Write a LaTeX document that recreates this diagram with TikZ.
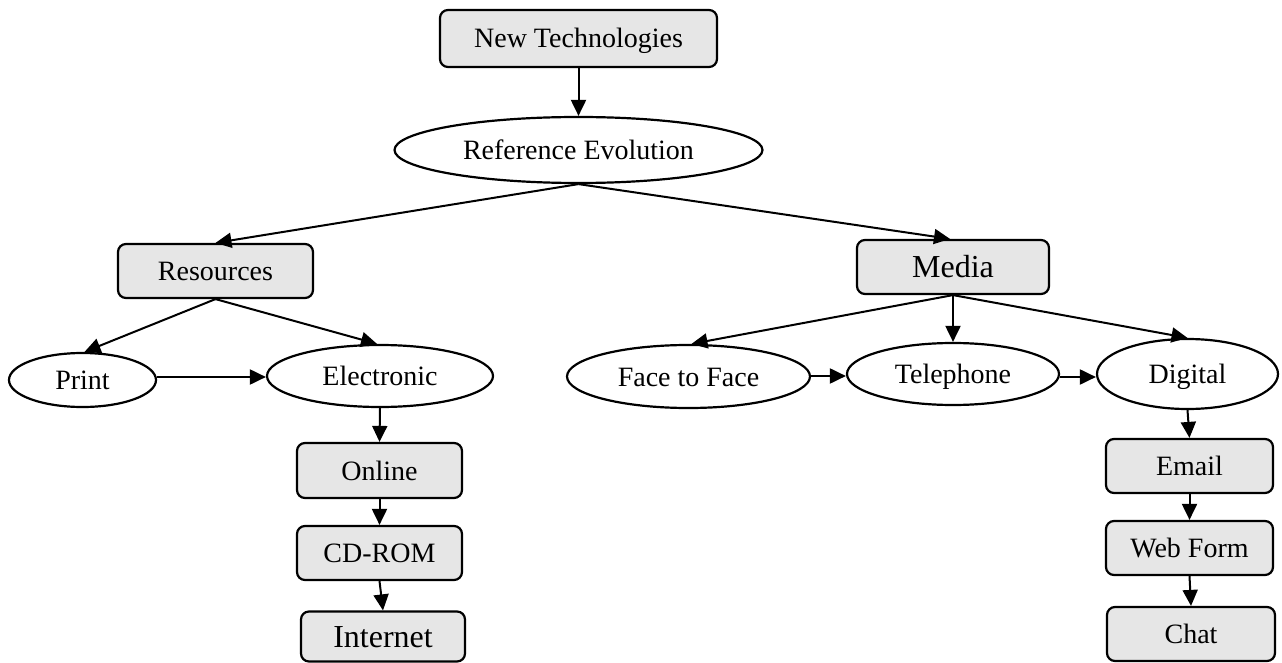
\documentclass[tikz,border=0pt]{standalone}
\usepackage{fontspec}
\setmainfont{Liberation Serif}
\usetikzlibrary{arrows.meta,shapes.geometric}
\definecolor{boxfill}{HTML}{E6E6E6}
\tikzset{
  label text/.style={text height=19pt, text depth=0pt},
  box/.style={draw, line width=2.2pt, rounded corners=8pt, fill=boxfill,
    inner sep=0pt, label text, font=\fontsize{28}{32}\selectfont},
  oval/.style={draw, ellipse, line width=2.2pt, fill=white,
    inner sep=0pt, label text, font=\fontsize{28}{32}\selectfont},
  big/.style={font=\fontsize{32}{36}\selectfont, text height=21pt},
  link/.style={line width=2pt, -{Triangle[length=16pt,width=15pt]}}
}
\begin{document}
\begin{tikzpicture}[x=1pt,y=-1pt]
\useasboundingbox (0,0) rectangle (1282,663);

% top of the tree
\node[box, minimum width=277pt, minimum height=57pt] (nt) at (578.5,38.5) {New Technologies};
\node[oval, minimum width=368pt, minimum height=66pt] (re) at (578.5,150) {Reference Evolution};

% second level
\node[box, minimum width=195pt, minimum height=54pt] (res) at (215.5,271) {Resources};
\node[box, big, minimum width=192pt, minimum height=54pt] (med) at (953,267) {Media};

% resources branch
\node[oval, minimum width=147pt, minimum height=54pt] (pr) at (82.5,380) {Print};
\node[oval, minimum width=226pt, minimum height=62pt] (el) at (380,376) {Electronic};
\node[box, minimum width=165pt, minimum height=55pt] (onl) at (379.5,470.5) {Online};
\node[box, minimum width=165pt, minimum height=54pt] (cd) at (379.5,553) {CD-ROM};
\node[box, big, minimum width=164pt, minimum height=50pt] (inet) at (383,636.5) {Internet};

% media branch
\node[oval, minimum width=243pt, minimum height=63pt] (ff) at (688.5,376.5) {Face to Face};
\node[oval, minimum width=212pt, minimum height=62pt] (tel) at (953,374) {Telephone};
\node[oval, minimum width=181pt, minimum height=70pt] (dig) at (1187.5,374) {Digital};
\node[box, minimum width=167pt, minimum height=54pt] (em) at (1189.5,466) {Email};
\node[box, minimum width=167pt, minimum height=54pt] (wf) at (1189.5,548) {Web Form};
\node[box, minimum width=168pt, minimum height=54pt] (chat) at (1191,634) {Chat};

% connectors
\draw[link] (nt.south) -- (re.north);
\draw[link] (re.south) -- (res.north);
\draw[link] (re.south) -- ([xshift=-3pt]med.north);
\draw[link] (res.south) -- ([xshift=2pt]pr.north);
\draw[link] (res.south) -- ([xshift=-3pt]el.north);
\draw[link] ([yshift=3pt]pr.east) -- ([yshift=-1pt]el.west);
\draw[link] (el.south) -- (onl.north);
\draw[link] (onl.south) -- (cd.north);
\draw[link] (cd.south) -- (inet.north);
\draw[link] (med.south) -- ([xshift=3pt]ff.north);
\draw[link] (med.south) -- (tel.north);
\draw[link] (med.south) -- (dig.north);
\draw[link] ([yshift=0.5pt]ff.east) -- ([yshift=-2pt]tel.west);
\draw[link] ([yshift=-3pt]tel.east) -- ([yshift=-3pt]dig.west);
\draw[link] (dig.south) -- (em.north);
\draw[link] (em.south) -- (wf.north);
\draw[link] (wf.south) -- (chat.north);
\end{tikzpicture}
\end{document}
